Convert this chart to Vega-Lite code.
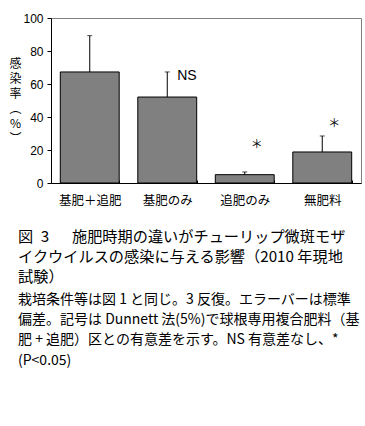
{
  "$schema": "https://vega.github.io/schema/vega-lite/v6.json",
  "width": 310,
  "height": 165,
  "autosize": {"type": "none"},
  "padding": {"left": 51, "top": 18, "right": 4, "bottom": 243},
  "background": "white",
  "config": {
    "view": {"stroke": "#808080", "strokeWidth": 1},
    "axis": {"domainColor": "black", "tickColor": "black", "labelColor": "black", "grid": false},
    "axisY": {"labelOverlap": false, "labelBound": false, "labelFlush": false, "labelFont": "Liberation Sans", "labelFontSize": 12, "labelPadding": 4, "tickSize": 4}
  },
  "title": {
    "text": ["図\u20023\u3000\u2002施肥時期の違いがチューリップ微斑モザ", "イクウイルスの感染に与える影響（2010 年現地", "試験）"],
    "subtitle": ["栽培条件等は図 1 と同じ。3 反復。エラーバーは標準", "偏差。記号は Dunnett 法(5%)で球根専用複合肥料（基", "肥 + 追肥）区との有意差を示す。NS 有意差なし、*", "(P<0.05)"],
    "orient": "bottom",
    "anchor": "start",
    "frame": "group",
    "dx": -33,
    "offset": 23,
    "font": "Noto Sans CJK JP",
    "fontSize": 15.2,
    "fontWeight": "normal",
    "lineHeight": 20,
    "color": "black",
    "subtitleFont": "Noto Sans CJK JP",
    "subtitleFontSize": 14,
    "subtitleLineHeight": 20.3,
    "subtitleColor": "black",
    "subtitlePadding": 8
  },
  "data": {
    "values": [
      {"treatment": "基肥＋追肥", "rate": 67.3, "err": 89.3, "note": ""},
      {"treatment": "基肥のみ", "rate": 52.1, "err": 67.3, "note": "NS", "note_y": 64.6},
      {"treatment": "追肥のみ", "rate": 5.05, "err": 6.7, "note": "＊", "note_y": 23.2},
      {"treatment": "無肥料", "rate": 18.8, "err": 28.5, "note": "＊", "note_y": 35.8}
    ]
  },
  "encoding": {
    "x": {
      "field": "treatment",
      "type": "nominal",
      "sort": null,
      "scale": {"paddingInner": 0.24, "paddingOuter": 0.12},
      "axis": {
        "title": null,
        "labelAngle": 0,
        "labelFont": "Noto Sans CJK JP",
        "labelFontSize": 12.5,
        "labelPadding": 14,
        "tickBand": "extent",
        "tickSize": -3,
        "domainColor": "black"
      }
    }
  },
  "layer": [
    {
      "mark": {"type": "bar", "color": "#808080", "stroke": "black", "strokeWidth": 1},
      "encoding": {
        "y": {
          "field": "rate",
          "type": "quantitative",
          "scale": {"domain": [0, 100], "nice": false},
          "axis": {
            "values": [0, 20, 40, 60, 80, 100],
            "title": ["感", "染", "率", "︵", "%", "︶"],
            "titleAngle": 0,
            "titleFont": "Noto Sans CJK JP",
            "titleFontSize": 12,
            "titleFontWeight": "normal",
            "titleLineHeight": 15,
            "titleAlign": "center",
            "titleBaseline": "middle",
            "titleX": -36,
            "titleY": 45,
            "titleColor": "black"
          }
        }
      }
    },
    {
      "mark": {"type": "rule", "color": "black", "strokeWidth": 1},
      "encoding": {"y": {"field": "rate", "type": "quantitative", "axis": {"values": [0, 20, 40, 60, 80, 100]}}, "y2": {"field": "err"}}
    },
    {
      "mark": {"type": "tick", "color": "black", "thickness": 1, "size": 5},
      "encoding": {"y": {"field": "err", "type": "quantitative", "axis": {"values": [0, 20, 40, 60, 80, 100]}}}
    },
    {
      "transform": [{"filter": "datum.note == 'NS'"}],
      "mark": {"type": "text", "align": "left", "baseline": "middle", "dx": 10, "font": "Liberation Sans", "fontSize": 14, "color": "black"},
      "encoding": {"y": {"field": "note_y", "type": "quantitative", "axis": {"values": [0, 20, 40, 60, 80, 100]}}, "text": {"field": "note"}}
    },
    {
      "transform": [{"filter": "datum.note == '＊'"}],
      "mark": {"type": "text", "align": "center", "baseline": "middle", "dx": 12, "font": "Noto Sans CJK JP", "fontSize": 12, "color": "black"},
      "encoding": {"y": {"field": "note_y", "type": "quantitative", "axis": {"values": [0, 20, 40, 60, 80, 100]}}, "text": {"field": "note"}}
    }
  ]
}
